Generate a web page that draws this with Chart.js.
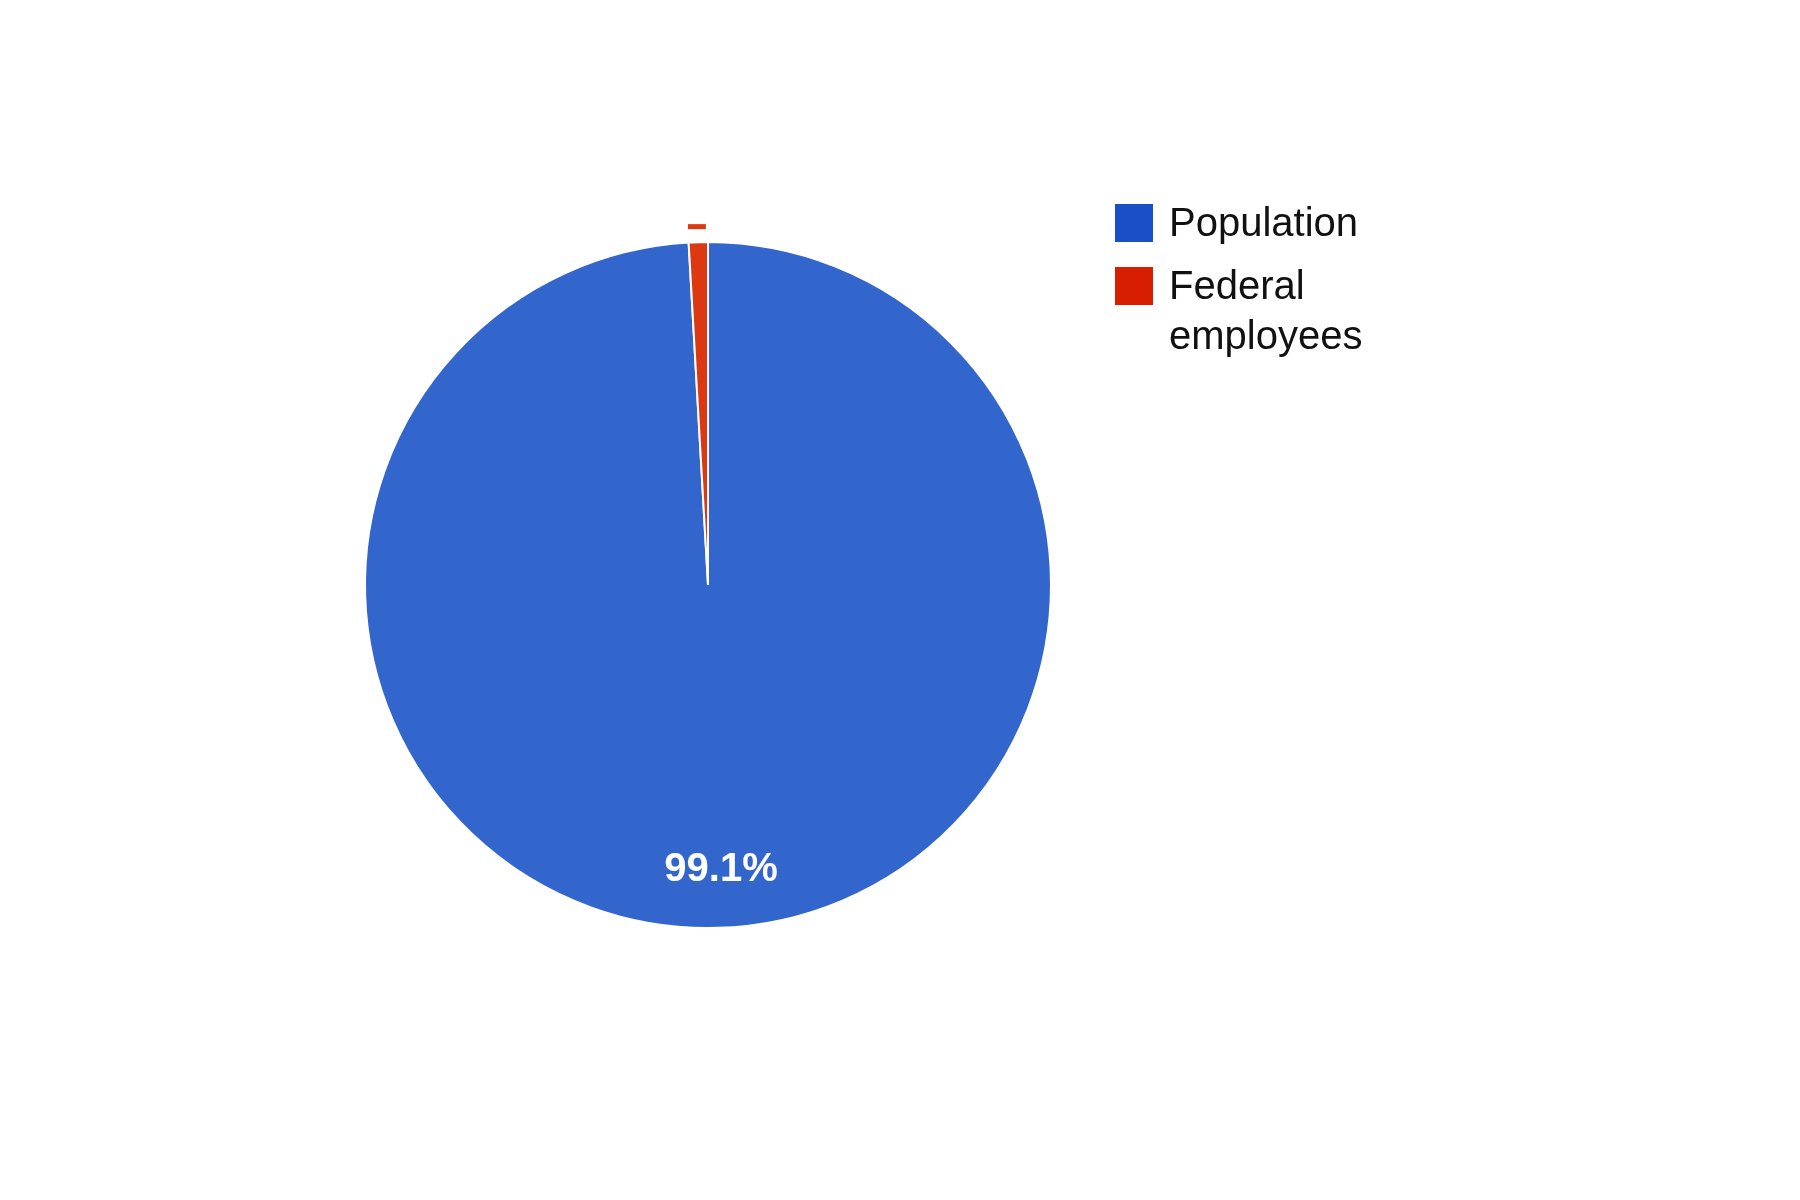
<!DOCTYPE html>
<html>
<head>
<meta charset="utf-8">
<script src="https://cdn.jsdelivr.net/npm/chart.js@4"></script>
<style>
  html, body { margin: 0; padding: 0; background: #fff; }
  #wrap { position: relative; width: 1800px; height: 1200px; }
  #legend { position: absolute; left: 1115px; top: 204px; font-family: "Liberation Sans", Arial, sans-serif; font-size: 40px; color: #111; }
  #legend .item { display: flex; align-items: flex-start; margin-bottom: 20px; }
  #legend .box { width: 38px; height: 38px; margin-right: 16px; flex: none; }
  #legend .txt { line-height: 50px; margin-top: -7px; width: 230px; }
</style>
</head>
<body>
<div id="wrap">
  <canvas id="pieChart" width="1800" height="1200"></canvas>
  <div id="legend"></div>
</div>
<script>
// Share of the population (percent)
const labels = ['Population', 'Federal employees'];
const shares = [99.1, 0.9];
const colors = ['#3366cc', '#dc3912'];
const legendColors = ['#1a4fc8', '#d81e00'];

// label inside the big slice + small red dash over the thin slice
const sliceLabels = {
  id: 'sliceLabels',
  afterDatasetsDraw(chart) {
    const ctx = chart.ctx;
    const meta = chart.getDatasetMeta(0);
    const total = shares.reduce((a, b) => a + b, 0);
    meta.data.forEach((arc, i) => {
      const p = arc.getProps(['x', 'y', 'startAngle', 'endAngle', 'outerRadius']);
      const mid = (p.startAngle + p.endAngle) / 2;
      if (shares[i] / total > 0.05) {
        const r = p.outerRadius * 0.83;
        ctx.save();
        ctx.font = 'bold 40px "Liberation Sans", Arial, sans-serif';
        ctx.fillStyle = '#fff';
        ctx.textAlign = 'center';
        ctx.textBaseline = 'middle';
        ctx.fillText((shares[i] / total * 100).toFixed(1) + '%', p.x + Math.cos(mid) * r + 5, p.y + Math.sin(mid) * r);
        ctx.restore();
      } else {
        const r = p.outerRadius + 15;
        ctx.save();
        ctx.fillStyle = colors[i];
        ctx.fillRect(p.x + Math.cos(mid) * r - 10, p.y + Math.sin(mid) * r - 3, 18, 5);
        ctx.restore();
      }
    });
  }
};

new Chart(document.getElementById('pieChart').getContext('2d'), {
  type: 'pie',
  data: {
    labels: labels,
    datasets: [{
      data: shares,
      backgroundColor: colors,
      borderColor: '#ffffff',
      borderWidth: 2
    }]
  },
  options: {
    responsive: false,
    animation: false,
    layout: { padding: { left: 364, right: 748, top: 241, bottom: 271 } },
    plugins: {
      legend: { display: false },
      tooltip: { enabled: false }
    }
  },
  plugins: [sliceLabels]
});

const legend = document.getElementById('legend');
labels.forEach((name, i) => {
  const item = document.createElement('div');
  item.className = 'item';
  item.innerHTML = '<div class="box" style="background:' + legendColors[i] + '"></div><div class="txt">' + name + '</div>';
  legend.appendChild(item);
});
</script>
</body>
</html>
